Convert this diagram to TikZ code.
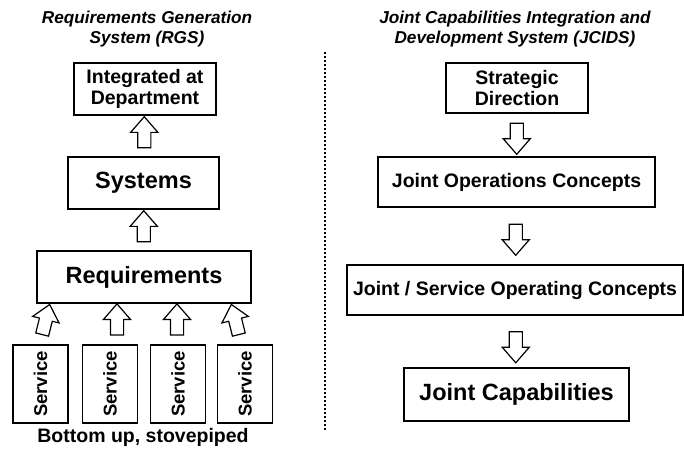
\documentclass[tikz,border=0pt]{standalone}
\usepackage{fontspec}
\setmainfont{Liberation Sans}
\usetikzlibrary{shapes.arrows,calc}

\tikzset{
  box/.style={draw=black, line width=1.6pt, inner sep=0pt, align=center,
    font=\bfseries\fontsize{19.5}{20.5}\selectfont},
  bigbox/.style={box, font=\bfseries\fontsize{23.5}{26}\selectfont},
  svcbox/.style={box, font=\bfseries\fontsize{18.5}{20}\selectfont,
    minimum width=78pt, minimum height=55pt, rotate=90},
  blockarrow/.style={draw=black, line width=1.2pt, single arrow,
    inner xsep=0pt, inner ysep=6pt,
    single arrow head extend=7pt, single arrow tip angle=82,
    minimum width=26pt, minimum height=31pt},
  heading/.style={align=center, font=\bfseries\itshape\fontsize{17.2}{20}\selectfont},
}

\begin{document}
\begin{tikzpicture}[x=1pt,y=-1pt]
\useasboundingbox (0,0) rectangle (684,448);
% left side: RGS
\node[heading] (rgs) at (147,29) {Requirements Generation\\System (RGS)};
\node[box, minimum width=142pt, minimum height=52pt] (dept) at (145,89) {Integrated at\\Department};
\node[bigbox, minimum width=151pt, minimum height=52pt] (sys) at (143.5,183) {Systems};
\node[bigbox, minimum width=214pt, minimum height=52pt] (req) at (144,277) {Requirements};
\node[blockarrow, rotate=90] (up1) at ($(dept.south)!0.5!(sys.north)$) {};
\node[blockarrow, rotate=90] (up2) at ($(sys.south)!0.5!(req.north)$) {};
\foreach \i/\x/\dx/\ang in {1/40.5/4.5/76, 2/110/7/90, 3/178/-1/90, 4/245/-9/104} {
  \node[svcbox] (svc\i) at (\x,384) {Service};
  \node[blockarrow, rotate=\ang] (sa\i) at ($(svc\i.east)+(\dx,-21)$) {};
}
\node[font=\bfseries\fontsize{19.5}{20}\selectfont] (stove) at (143,437) {Bottom up, stovepiped};
% divider
\draw [black, line width=1.5pt, dash pattern=on 2pt off 2pt] (325,52) -- (325,431);
% right side: JCIDS
\node[heading] (jcids) at (515,29) {Joint Capabilities Integration and\\Development System (JCIDS)};
\node[box, minimum width=142pt, minimum height=50pt] (strat) at (517,88) {Strategic\\Direction};
\node[box, minimum width=277pt, minimum height=50pt] (jops) at (516.5,182) {Joint Operations Concepts};
\node[box, minimum width=336pt, minimum height=50pt] (jsoc) at (515,290) {Joint / Service Operating Concepts};
\node[bigbox, minimum width=225pt, minimum height=53pt] (jcap) at (516.5,394.5) {Joint Capabilities};
\node[blockarrow, rotate=-90] (dn1) at ($(strat.south)!0.5!(jops.north)$) {};
\node[blockarrow, rotate=-90] (dn2) at ($(jops.south)!0.5!(jsoc.north)$) {};
\node[blockarrow, rotate=-90] (dn3) at ($(jsoc.south)!0.5!(jcap.north)+(0,2)$) {};
\end{tikzpicture}
\end{document}
